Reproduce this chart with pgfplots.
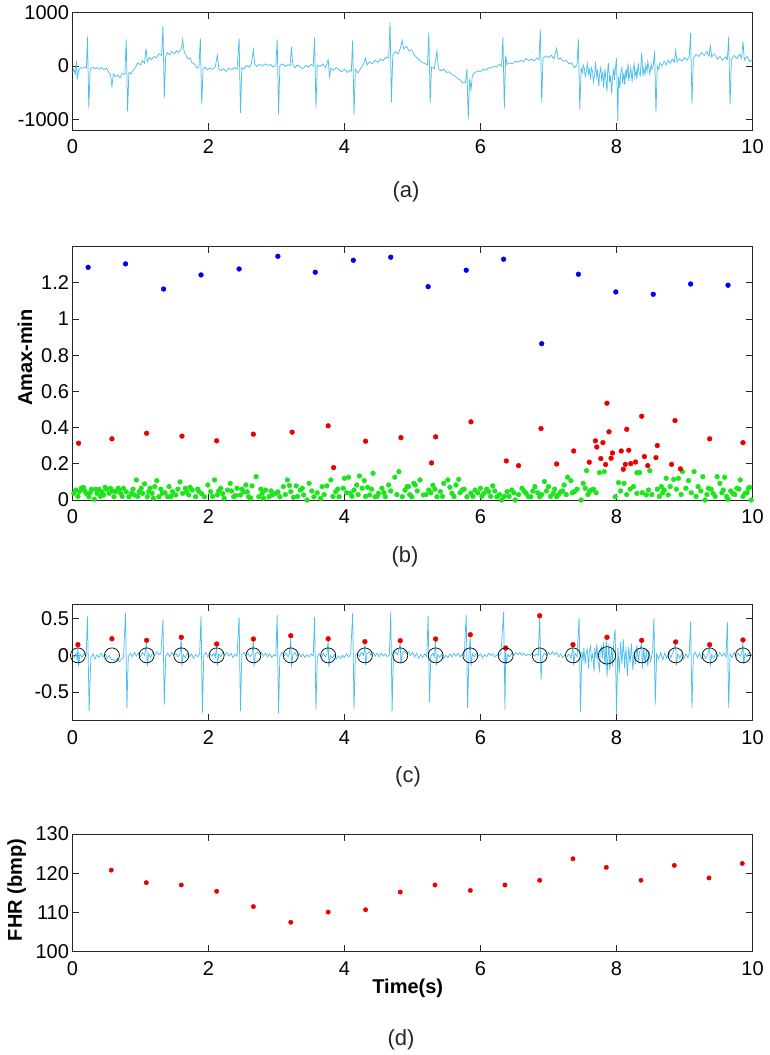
\documentclass[border=0pt]{standalone}
\usepackage{pgfplots}
\pgfplotsset{compat=1.18}
\usepackage{fontspec}
\setmainfont{Liberation Sans}

\definecolor{ecg}{RGB}{77,190,238}
\definecolor{dotblue}{RGB}{0,0,235}
\definecolor{dotred}{RGB}{235,0,0}
\definecolor{dotgreen}{RGB}{30,228,30}
\definecolor{axgray}{RGB}{38,38,38}

\tikzset{boldlab/.style={font=\fontsize{20}{22}\selectfont\bfseries}}
\pgfplotsset{
  panel/.style={
    scale only axis, width=680pt,
    xmin=0, xmax=10, xtick={0,2,...,10},
    tick align=inside, major tick length=6.5pt,
    axis line style={line width=0.8pt, axgray},
    every tick/.style={axgray, line width=0.8pt},
    tick label style={font=\fontsize{20}{23}\selectfont},
    xticklabel style={yshift=-6pt},
    /pgf/number format/assume math mode=true,
    /pgf/number format/1000 sep={},
  },
}

\begin{document}
\begin{tikzpicture}
\useasboundingbox (0,0) rectangle (770pt,-1055pt);

% ---------------- (a) raw abdominal signal
\begin{axis}[panel, at={(72.5pt,-12.7pt)}, anchor=north west, height=117.3pt,
  ymin=-1200, ymax=1000, ytick={-1000,0,1000}]
\addplot[ecg, line width=0.75pt] coordinates {
(0.00,-120) (0.02,-60) (0.04,-150) (0.06,100) (0.07,-250) (0.09,-80) (0.12,-30) (0.15,-40) (0.18,-20) (0.205,-30)
(0.22,550) (0.24,-780) (0.26,-60) (0.30,-20) (0.33,-50) (0.36,-30) (0.40,-60) (0.43,-25) (0.46,-70) (0.50,-40)
(0.53,-110) (0.56,-160) (0.58,-380) (0.60,-150) (0.63,-200) (0.66,-170) (0.70,-220) (0.73,-140) (0.77,-160)
(0.79,500) (0.81,-850) (0.83,-120) (0.86,-150) (0.90,-60) (0.93,-20) (0.96,60) (1.00,20) (1.03,100) (1.06,50)
(1.08,330) (1.10,80) (1.13,160) (1.16,120) (1.20,180) (1.23,150) (1.27,230) (1.31,200) (1.33,750) (1.35,-600)
(1.37,180) (1.40,250) (1.43,210) (1.46,270) (1.50,230) (1.53,290) (1.56,250) (1.60,320) (1.62,500) (1.64,280)
(1.67,200) (1.70,130) (1.73,150) (1.76,60) (1.80,30) (1.83,-40) (1.86,-20) (1.88,520) (1.90,-720) (1.92,-60)
(1.95,-20) (1.98,-70) (2.02,-40) (2.06,-60) (2.10,-10) (2.13,200) (2.15,-30) (2.18,-90) (2.22,-50) (2.26,-100)
(2.30,-40) (2.34,-70) (2.38,-30) (2.42,-60) (2.45,520) (2.47,-880) (2.49,-30) (2.52,-60) (2.56,10) (2.60,-20)
(2.63,40) (2.66,300) (2.68,30) (2.71,-10) (2.75,30) (2.79,0) (2.83,40) (2.87,10) (2.91,30) (2.95,-20) (2.99,10)
(3.01,500) (3.03,-900) (3.05,10) (3.09,40) (3.13,-10) (3.17,30) (3.20,0) (3.22,360) (3.24,20) (3.27,-30)
(3.31,20) (3.35,-20) (3.39,-50) (3.43,10) (3.47,-20) (3.51,30) (3.54,0) (3.56,530) (3.58,-780) (3.60,20)
(3.64,-10) (3.68,40) (3.72,-30) (3.76,120) (3.78,-200) (3.80,-40) (3.84,-80) (3.88,-30) (3.92,-70) (3.96,-110)
(4.00,-60) (4.04,-120) (4.08,-80) (4.10,-100) (4.12,480) (4.14,-920) (4.16,-60) (4.20,-130) (4.24,-40) (4.28,40)
(4.31,150) (4.33,20) (4.37,80) (4.41,40) (4.45,110) (4.49,70) (4.53,130) (4.57,100) (4.61,170) (4.65,150)
(4.67,820) (4.69,-680) (4.71,200) (4.75,270) (4.79,230) (4.82,330) (4.85,480) (4.87,320) (4.91,370) (4.95,280)
(4.99,300) (5.03,200) (5.07,150) (5.11,100) (5.15,60) (5.19,40) (5.22,20) (5.24,620) (5.26,-680) (5.28,-20)
(5.32,-50) (5.36,280) (5.38,-40) (5.42,-90) (5.46,-60) (5.50,-120) (5.54,-110) (5.58,-160) (5.62,-180) (5.66,-230)
(5.70,-260) (5.74,-320) (5.78,-300) (5.80,-50) (5.82,-1000) (5.84,-250) (5.86,-450) (5.88,-180) (5.92,-120)
(5.96,-90) (6.00,-110) (6.04,-60) (6.08,-80) (6.12,-30) (6.16,-40) (6.20,0) (6.24,-20) (6.28,30) (6.31,0)
(6.33,540) (6.35,-800) (6.37,200) (6.39,30) (6.43,60) (6.47,40) (6.51,90) (6.55,70) (6.59,110) (6.63,80)
(6.67,140) (6.71,100) (6.75,130) (6.79,90) (6.83,150) (6.86,120) (6.88,680) (6.90,-680) (6.92,150) (6.96,190)
(7.00,160) (7.04,200) (7.08,140) (7.12,330) (7.14,130) (7.18,150) (7.22,90) (7.26,110) (7.30,40) (7.34,60)
(7.38,-30) (7.42,20) (7.44,500) (7.46,-820)
(7.48,-40) (7.50,-120) (7.51,20) (7.53,-60) (7.54,-200) (7.56,-90) (7.57,50) (7.59,-140) (7.60,-60) (7.62,-250)
(7.63,-30) (7.65,-120) (7.66,-300) (7.68,-150) (7.69,80) (7.71,-200) (7.72,-100) (7.74,-380) (7.75,-160) (7.77,-20)
(7.78,-250) (7.80,-120) (7.81,-400) (7.83,-60) (7.84,-200) (7.86,-480) (7.87,-100) (7.88,60) (7.90,-300) (7.91,-180)
(7.93,-520) (7.94,-220) (7.96,-60) (7.97,-260) (7.98,-100) (8.00,150) (8.02,-1030) (8.03,-200) (8.05,-420) (8.06,-150)
(8.08,-30) (8.09,-320) (8.11,-120) (8.12,-350) (8.14,-60) (8.15,-220) (8.17,50) (8.18,-280) (8.20,-120) (8.21,-30)
(8.23,-300) (8.24,-100) (8.26,40) (8.27,-200) (8.29,-80) (8.30,-250) (8.32,60) (8.33,-120) (8.35,-180) (8.37,250)
(8.39,-200) (8.40,-50) (8.42,-150) (8.43,20) (8.45,-100) (8.46,80) (8.48,-60) (8.49,-150) (8.51,30) (8.52,-60)
(8.54,0) (8.56,280) (8.58,-870) (8.60,0)
(8.62,-60) (8.64,60) (8.67,0) (8.70,90) (8.73,20) (8.76,110) (8.79,50) (8.82,130) (8.85,70) (8.87,300)
(8.89,80) (8.92,140) (8.96,90) (9.00,160) (9.04,110) (9.07,180) (9.09,620) (9.11,-720) (9.13,150) (9.17,220)
(9.21,180) (9.25,250) (9.29,200) (9.33,270) (9.36,180) (9.38,380) (9.40,170) (9.44,230) (9.48,130) (9.52,180)
(9.56,110) (9.60,170) (9.63,120) (9.65,550) (9.67,-720) (9.69,120) (9.73,200) (9.77,140) (9.81,220) (9.84,150)
(9.86,460) (9.88,110) (9.92,180) (9.96,80) (10.00,120)
};
\end{axis}

% ---------------- (b) Amax-min
\begin{axis}[panel, at={(72.5pt,-246.7pt)}, anchor=north west, height=253.3pt,
  ymin=0, ymax=1.4, ytick={0,0.2,0.4,0.6,0.8,1,1.2}, clip=false,
  ylabel={Amax-min}, ylabel style={boldlab, at={(axis description cs:-0.07,0.562)}, anchor=center}]
\addplot[only marks, mark=*, mark size=2.4pt, color=dotgreen] coordinates {
(0.02,0.037) (0.05,0.055) (0.10,0.046) (0.16,0.07) (0.20,0.037) (0.24,0.018) (0.28,0.059) (0.32,0.004) (0.36,0.037)
(0.39,0.059) (0.43,0.046) (0.46,0.028) (0.50,0.059) (0.54,0.037) (0.56,0.065) (0.61,0.018) (0.64,0.046) (0.67,0.065)
(0.71,0.037) (0.75,0.065) (0.83,0.018) (0.87,0.037) (0.91,0.028) (0.94,0.111) (0.98,0.046) (1.03,0.037) (1.06,0.089)
(1.10,0.018) (1.14,0.065) (1.17,0.037) (1.21,0.074) (1.24,0.107) (1.27,0.018) (1.32,0.037) (1.40,0.018) (1.42,0.074)
(1.47,0.046) (1.52,0.028) (1.58,0.10) (1.62,0.037) (1.66,0.065) (1.71,0.028) (1.76,0.055) (1.81,0.018) (1.86,0.046)
(1.94,0.018) (1.99,0.083) (2.03,0.046) (2.09,0.111) (2.13,0.028) (2.18,0.065) (2.23,0.009) (2.28,0.055) (2.32,0.092)
(2.37,0.018) (2.42,0.065) (2.47,0.028) (2.52,0.046) (2.55,0.083) (2.59,0.018) (2.64,0.078) (2.70,0.129) (2.74,0.018)
(2.79,0.037) (2.84,0.055) (2.89,0.018) (2.94,0.028) (2.99,0.037) (3.05,0.018) (3.10,0.074) (3.16,0.111) (3.21,0.046)
(3.25,0.015) (3.29,0.078) (3.35,0.055) (3.40,0.028) (3.45,0.0) (3.48,0.092) (3.55,0.018) (3.65,0.009) (3.67,0.074)
(3.74,0.078) (3.80,0.111) (3.87,0.046) (3.92,0.018) (3.98,0.065) (4.00,0.12) (4.06,0.126) (4.09,0.037) (4.14,0.055)
(4.18,0.083) (4.22,0.133) (4.26,0.065) (4.29,0.107) (4.34,0.07) (4.37,0.028) (4.42,0.148) (4.45,0.018) (4.50,0.037)
(4.55,0.065) (4.60,0.018) (4.65,0.083) (4.74,0.126) (4.80,0.157) (4.85,0.018) (4.89,0.055) (4.94,0.074) (5.02,0.092)
(4.92,0.074) (4.99,0.018) (5.04,0.083) (5.11,0.111) (5.16,0.028) (5.24,0.055) (5.30,0.081) (5.36,0.018) (5.41,0.046)
(5.46,0.092) (5.52,0.111) (5.58,0.037) (5.64,0.083) (5.68,0.114) (5.73,0.055) (5.80,0.018) (5.86,0.037) (5.92,0.055)
(6.00,0.065) (6.05,0.037) (6.12,0.046) (6.18,0.078) (6.24,0.018) (6.31,0.0) (6.39,0.046) (6.46,0.055) (6.51,0.0)
(6.61,0.065) (6.67,0.037) (6.74,0.018) (6.80,0.074) (6.87,0.018) (6.94,0.102) (7.00,0.074) (7.07,0.037) (7.12,0.018)
(7.18,0.046) (7.23,0.083) (7.28,0.126) (7.33,0.107) (7.38,0.046) (7.48,0.0) (7.51,0.092) (7.54,0.065) (7.56,0.162)
(7.60,0.046) (7.63,0.055) (7.75,0.151) (7.82,0.157) (7.98,0.018) (8.03,0.096) (8.11,0.092) (8.25,0.074) (8.30,0.037)
(8.30,0.151) (8.34,0.151) (8.44,0.028) (8.47,0.055) (8.49,0.162) (8.66,0.074) (8.70,0.055) (8.73,0.12) (8.76,0.028)
(8.79,0.074) (8.84,0.114) (8.91,0.12) (8.97,0.157) (9.02,0.065) (9.06,0.107) (9.14,0.157) (9.20,0.074) (9.27,0.129)
(9.30,0.0) (9.35,0.065) (9.42,0.037) (9.48,0.129) (9.52,0.092) (9.57,0.055) (9.59,0.126) (9.64,0.004) (9.71,0.037)
(9.77,0.065) (9.82,0.111) (9.89,0.037) (9.94,0.065) (9.98,0.0)
(0.08,0.02) (0.13,0.065) (0.18,0.05) (0.26,0.04) (0.34,0.06) (0.41,0.02) (0.48,0.07) (0.59,0.05) (0.69,0.055)
(0.73,0.02) (0.79,0.045) (0.89,0.06) (0.96,0.02) (1.01,0.065) (1.12,0.045) (1.19,0.01) (1.30,0.06) (1.36,0.04)
(1.45,0.02) (1.55,0.06) (1.68,0.045) (1.73,0.07) (1.84,0.06) (1.90,0.035) (2.06,0.02) (2.15,0.05) (2.21,0.035)
(2.34,0.05) (2.40,0.025) (2.49,0.06) (2.57,0.045) (2.62,0.01) (2.77,0.06) (2.81,0.01) (2.92,0.05) (3.02,0.045)
(3.13,0.03) (3.19,0.08) (3.31,0.02) (3.38,0.065) (3.52,0.05) (3.60,0.04) (3.70,0.03) (3.83,0.02) (3.90,0.06)
(4.03,0.04) (4.11,0.02) (4.20,0.03) (4.31,0.02) (4.40,0.06) (4.48,0.02) (4.58,0.04) (4.68,0.05) (4.77,0.03)
(4.96,0.03) (5.07,0.05) (5.20,0.03) (5.27,0.04) (5.33,0.06) (5.44,0.02) (5.55,0.07) (5.61,0.02) (5.70,0.04)
(5.76,0.06) (5.89,0.02) (5.96,0.04) (6.02,0.02) (6.09,0.06) (6.15,0.02) (6.21,0.05) (6.28,0.03) (6.35,0.02)
(6.42,0.02) (6.49,0.04) (6.56,0.03) (6.64,0.05) (6.70,0.02) (6.77,0.05) (6.84,0.04) (6.90,0.03) (6.97,0.05)
(7.03,0.02) (7.09,0.06) (7.15,0.03) (7.21,0.05) (7.26,0.03) (7.35,0.04) (7.42,0.06) (7.58,0.03) (7.66,0.06)
(7.70,0.04) (8.06,0.05) (8.15,0.03) (8.20,0.06) (8.38,0.04) (8.52,0.03) (8.60,0.06) (8.63,0.02) (8.68,0.04)
(8.88,0.06) (8.95,0.03) (9.10,0.04) (9.17,0.02) (9.24,0.05) (9.33,0.03) (9.39,0.06) (9.45,0.02) (9.55,0.04)
(9.62,0.02) (9.68,0.05) (9.74,0.03) (9.80,0.06) (9.86,0.02) (9.92,0.04) (9.96,0.07)
};
\addplot[only marks, mark=*, mark size=2.4pt, color=dotred] coordinates {
(0.09,0.314) (0.58,0.338) (1.09,0.369) (1.61,0.353) (2.12,0.327) (2.66,0.364) (3.23,0.375) (3.76,0.41) (3.84,0.179)
(4.31,0.325) (4.83,0.345) (5.34,0.349) (5.28,0.205) (5.86,0.432) (6.38,0.216) (6.56,0.19) (6.89,0.395) (7.12,0.199)
(7.37,0.271) (7.60,0.209) (7.69,0.327) (7.71,0.293) (7.77,0.229) (7.80,0.317) (7.84,0.196) (7.86,0.535) (7.89,0.377)
(7.92,0.231) (7.94,0.26) (8.07,0.271) (8.10,0.17) (8.13,0.197) (8.15,0.391) (8.18,0.275) (8.21,0.201) (8.28,0.21)
(8.37,0.463) (8.41,0.24) (8.46,0.19) (8.58,0.234) (8.60,0.301) (8.81,0.197) (8.86,0.439) (8.94,0.172) (9.37,0.338)
(9.86,0.317)
};
\addplot[only marks, mark=*, mark size=2.4pt, color=dotblue] coordinates {
(0.23,1.286) (0.78,1.305) (1.34,1.166) (1.89,1.244) (2.45,1.277) (3.02,1.347) (3.57,1.259) (4.13,1.325) (4.68,1.342)
(5.23,1.179) (5.79,1.27) (6.34,1.331) (6.90,0.864) (7.44,1.248) (7.99,1.15) (8.54,1.137) (9.09,1.194) (9.64,1.187)
};
\end{axis}

% ---------------- (c) residual signal with detected fetal peaks
\begin{axis}[panel, at={(72.5pt,-604pt)}, anchor=north west, height=116.7pt,
  ymin=-0.89, ymax=0.7, ytick={-0.5,0,0.5}]
\addplot[ecg, line width=0.75pt] coordinates {
(0.00,0.02) (0.03,-0.03) (0.05,0.03) (0.07,-0.05) (0.08,0.12) (0.09,-0.15) (0.11,0.02) (0.14,-0.03) (0.17,0.03)
(0.20,-0.01) (0.22,0.53) (0.245,-0.76) (0.27,-0.03) (0.30,0.02) (0.33,-0.05) (0.36,0.01) (0.39,-0.03) (0.42,0.03)
(0.45,-0.02) (0.48,0.02) (0.51,-0.04) (0.54,0.00) (0.57,-0.06) (0.60,-0.05) (0.63,-0.08) (0.66,-0.04) (0.69,-0.09)
(0.72,-0.05) (0.75,-0.03) (0.78,0.58) (0.80,-0.72) (0.82,-0.02) (0.85,0.03) (0.88,-0.02) (0.91,0.04) (0.94,-0.01)
(0.97,0.03) (1.00,-0.02) (1.03,0.04) (1.06,0.00) (1.09,0.18) (1.10,-0.15) (1.12,0.02) (1.15,-0.03) (1.18,0.04)
(1.21,0.00) (1.24,0.05) (1.27,0.01) (1.30,0.03) (1.33,0.49) (1.35,-0.67) (1.37,-0.02) (1.40,0.03) (1.43,-0.02)
(1.46,0.04) (1.49,0.00) (1.52,0.03) (1.55,-0.02) (1.58,0.02) (1.60,0.22) (1.61,-0.15) (1.63,0.01) (1.66,-0.03)
(1.69,0.03) (1.72,-0.02) (1.75,0.02) (1.78,-0.04) (1.81,0.01) (1.84,-0.02) (1.87,0.02) (1.89,0.54) (1.91,-0.78)
(1.93,0.00) (1.96,0.04) (1.99,-0.02) (2.02,0.03) (2.05,-0.01) (2.08,0.03) (2.10,-0.02) (2.12,0.13) (2.13,-0.14)
(2.15,0.02) (2.18,-0.02) (2.21,0.04) (2.24,0.00) (2.27,0.04) (2.30,-0.01) (2.33,0.03) (2.36,-0.03) (2.39,0.02)
(2.42,-0.01) (2.45,0.52) (2.47,-0.76) (2.49,0.01) (2.52,0.04) (2.55,-0.01) (2.58,0.03) (2.61,-0.02) (2.64,0.02)
(2.66,0.20) (2.67,-0.15) (2.69,0.02) (2.72,0.05) (2.75,0.01) (2.78,0.04) (2.81,-0.01) (2.84,0.03) (2.87,-0.02)
(2.90,0.02) (2.93,-0.03) (2.96,0.01) (2.99,-0.01) (3.01,0.55) (3.03,-0.79) (3.05,0.00) (3.08,0.04) (3.11,-0.01)
(3.14,0.03) (3.17,-0.02) (3.19,0.02) (3.21,0.24) (3.22,-0.16) (3.24,0.01) (3.27,0.04) (3.30,-0.01) (3.33,0.03)
(3.36,-0.02) (3.39,0.02) (3.42,-0.03) (3.45,0.01) (3.48,-0.02) (3.51,0.02) (3.54,-0.01) (3.56,0.52) (3.58,-0.74)
(3.60,-0.02) (3.63,0.02) (3.66,-0.03) (3.69,0.03) (3.72,-0.02) (3.74,0.01) (3.76,0.20) (3.77,-0.16) (3.79,0.00)
(3.82,-0.04) (3.85,0.01) (3.88,-0.05) (3.91,-0.01) (3.94,-0.04) (3.97,0.00) (4.00,-0.03) (4.03,0.02) (4.06,-0.02)
(4.09,0.01) (4.12,0.58) (4.14,-0.74) (4.16,0.00) (4.19,0.03) (4.22,-0.02) (4.25,0.04) (4.28,0.00) (4.30,0.16)
(4.31,-0.13) (4.33,0.02) (4.36,0.05) (4.39,0.00) (4.42,0.04) (4.45,-0.01) (4.48,0.03) (4.51,-0.02) (4.54,0.03)
(4.57,-0.01) (4.60,0.02) (4.63,-0.02) (4.66,0.01) (4.68,0.60) (4.70,-0.76) (4.72,0.02) (4.75,0.05) (4.78,0.01)
(4.82,0.17) (4.83,-0.12) (4.85,0.03) (4.88,0.06) (4.91,0.02) (4.94,0.05) (4.97,0.00) (5.00,0.04) (5.03,-0.02)
(5.06,0.03) (5.09,-0.04) (5.12,0.01) (5.15,-0.03) (5.18,0.02) (5.21,-0.02) (5.23,0.54) (5.25,-0.64) (5.27,-0.01)
(5.30,0.03) (5.32,-0.02) (5.34,0.20) (5.35,-0.14) (5.37,0.01) (5.40,-0.03) (5.43,0.02) (5.46,-0.04) (5.49,0.00)
(5.52,-0.03) (5.55,0.02) (5.58,-0.02) (5.61,0.03) (5.64,-0.01) (5.67,0.03) (5.70,-0.02) (5.73,0.02) (5.76,-0.01)
(5.79,0.55) (5.81,-0.72) (5.83,0.00) (5.85,0.26) (5.86,-0.15) (5.88,0.02) (5.91,-0.02) (5.94,0.03) (5.97,-0.01)
(6.00,0.02) (6.03,-0.03) (6.06,0.01) (6.09,-0.02) (6.12,0.03) (6.15,0.00) (6.18,0.02) (6.21,-0.02) (6.24,0.01)
(6.27,-0.01) (6.30,0.02) (6.34,0.59) (6.36,-0.74) (6.37,0.08) (6.38,-0.12) (6.40,0.01) (6.43,-0.02) (6.46,0.03)
(6.49,0.00) (6.52,0.04) (6.55,0.01) (6.58,0.04) (6.61,0.00) (6.64,0.03) (6.67,-0.01) (6.70,0.02) (6.73,0.00)
(6.76,0.03) (6.79,-0.01) (6.82,0.02) (6.85,0.00) (6.87,0.53) (6.89,-0.33) (6.91,-0.02) (6.94,0.03) (6.97,0.00)
(7.00,0.04) (7.03,0.01) (7.06,0.05) (7.09,0.01) (7.12,0.04) (7.15,-0.02) (7.18,0.02) (7.21,-0.03) (7.24,0.01)
(7.27,-0.02) (7.30,0.02) (7.33,-0.04) (7.36,0.12) (7.37,-0.14) (7.39,0.03) (7.42,-0.02) (7.45,0.51) (7.47,-0.77)
(7.49,0.05) (7.51,-0.06) (7.52,0.10) (7.54,-0.12) (7.55,0.02) (7.57,0.08) (7.59,-0.18) (7.60,0.04) (7.62,0.13)
(7.63,-0.06) (7.65,0.02) (7.67,-0.22) (7.68,0.10) (7.70,-0.04) (7.71,0.16) (7.73,-0.10) (7.75,-0.20) (7.76,0.06)
(7.78,0.12) (7.79,-0.05) (7.81,0.18) (7.83,-0.14) (7.85,0.22) (7.86,-0.30) (7.88,0.06) (7.89,0.16) (7.90,-0.20)
(7.92,0.02) (7.93,0.10) (7.94,-0.15) (7.96,0.18) (7.98,0.35) (8.00,-0.79) (8.02,0.10) (8.03,-0.06) (8.04,-0.25)
(8.06,0.18) (8.07,0.02) (8.08,-0.12) (8.10,0.22) (8.12,-0.18) (8.13,0.02) (8.14,0.08) (8.16,-0.28) (8.18,0.12)
(8.19,-0.02) (8.20,-0.10) (8.22,0.16) (8.24,-0.20) (8.26,0.06) (8.27,-0.02) (8.28,-0.12) (8.30,0.14) (8.32,-0.08)
(8.34,0.05) (8.37,0.18) (8.38,-0.18) (8.40,0.10) (8.42,-0.12) (8.44,0.08) (8.46,-0.15) (8.48,0.06) (8.50,-0.08)
(8.53,0.04) (8.55,0.50)
(8.57,-0.67) (8.59,0.02) (8.62,-0.05) (8.65,0.04) (8.68,-0.06) (8.71,0.03) (8.74,-0.04) (8.77,0.05) (8.80,-0.03)
(8.83,0.04) (8.87,0.16) (8.88,-0.14) (8.90,0.02) (8.93,-0.04) (8.96,0.03) (8.99,-0.05) (9.02,0.02) (9.05,-0.03)
(9.07,0.02) (9.09,0.46) (9.11,-0.72) (9.13,0.00) (9.16,0.04) (9.19,-0.03) (9.22,0.03) (9.25,-0.05) (9.28,0.02)
(9.31,-0.04) (9.34,0.01) (9.37,0.12) (9.38,-0.15) (9.40,0.01) (9.43,-0.04) (9.46,0.03) (9.49,-0.02) (9.52,0.04)
(9.55,-0.01) (9.58,0.03) (9.61,-0.02) (9.63,0.46) (9.65,-0.72) (9.67,0.02) (9.70,-0.03) (9.73,0.04) (9.76,-0.02)
(9.79,0.03) (9.82,-0.01) (9.84,0.02) (9.86,0.18) (9.87,-0.12) (9.89,0.03) (9.92,-0.02) (9.95,0.04) (9.98,0.00)
(10.00,0.02)
};
\addplot[only marks, mark=*, mark size=2.4pt, color=dotred] coordinates {
(0.08,0.146) (0.58,0.227) (1.09,0.205) (1.60,0.246) (2.12,0.155) (2.66,0.223) (3.21,0.268) (3.76,0.227) (4.30,0.187)
(4.82,0.20) (5.34,0.223) (5.85,0.282) (6.37,0.10) (6.87,0.54) (7.36,0.146) (7.86,0.246) (8.37,0.205) (8.87,0.183)
(9.37,0.146) (9.86,0.21)
};
\addplot[only marks, mark=o, mark size=7.5pt, color=black, mark options={line width=0.7pt}] coordinates {
(0.08,0) (0.58,0) (1.09,0) (1.60,0) (2.12,0) (2.66,0) (3.21,0) (3.76,0) (4.30,0) (4.82,0) (5.34,0) (5.85,0)
(6.37,0) (6.87,0) (7.36,0) (8.37,0) (8.87,0) (9.37,0) (9.86,0)
};
\addplot[only marks, mark=o, mark size=8.7pt, color=black, mark options={line width=0.7pt}] coordinates {
(7.86,0)
};
\end{axis}

% ---------------- (d) fetal heart rate
\begin{axis}[panel, at={(72.5pt,-834pt)}, anchor=north west, height=117.7pt,
  ymin=100, ymax=130, ytick={100,110,120,130}, clip=false,
  xlabel={Time(s)}, xlabel style={boldlab, at={(axis description cs:0.493,-0.308)}, anchor=center},
  ylabel={FHR (bmp)}, ylabel style={boldlab, at={(axis description cs:-0.082,0.524)}, anchor=center}]
\addplot[only marks, mark=*, mark size=2.2pt, color=dotred] coordinates {
(0.57,120.8) (1.085,117.6) (1.60,117.0) (2.12,115.4) (2.66,111.5) (3.21,107.5) (3.76,110.1) (4.31,110.7)
(4.82,115.2) (5.33,117.0) (5.85,115.6) (6.36,117.0) (6.87,118.2) (7.36,123.7) (7.85,121.5) (8.36,118.2)
(8.85,122.0) (9.36,118.8) (9.85,122.5)
};
\end{axis}

% panel captions
\begin{scope}[every node/.style={font=\fontsize{22}{24}\selectfont, text=axgray}]
\node at (406pt,-192pt) {(a)};
\node at (405pt,-557pt) {(b)};
\node at (408pt,-777pt) {(c)};
\node at (401pt,-1040pt) {(d)};
\end{scope}
\end{tikzpicture}
\end{document}
